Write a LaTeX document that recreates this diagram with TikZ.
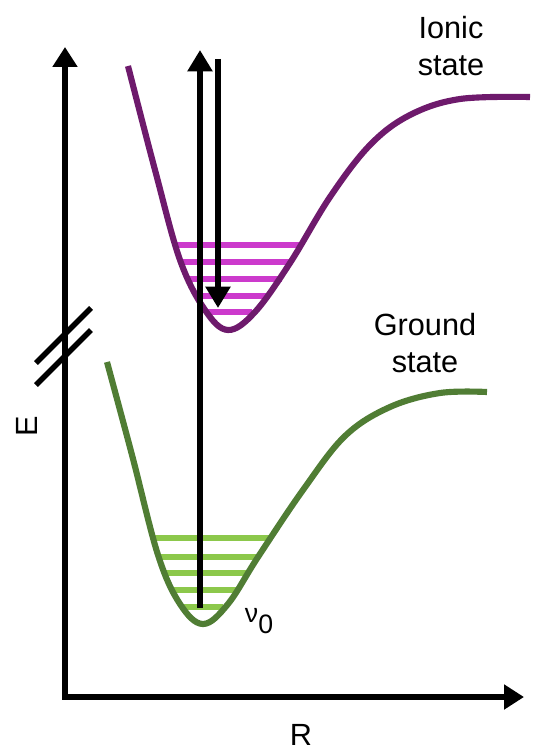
\documentclass[tikz,border=0pt]{standalone}
\usepackage{fontspec}
\setmainfont{Liberation Sans}
\usetikzlibrary{arrows.meta}
\definecolor{IonPurple}{HTML}{6E1A6C}
\definecolor{IonLevel}{HTML}{CC3ACC}
\definecolor{GndGreen}{HTML}{507D34}
\definecolor{GndLevel}{HTML}{8CC84B}

\begin{document}
\begin{tikzpicture}[x=0.75pt,y=-0.75pt,
    axis/.style={line width=5pt,line join=miter,{Triangle[width=18pt,length=15pt]}-{Triangle[width=18pt,length=15pt]}},
    trans/.style={line width=4.8pt,-{Triangle[width=18pt,length=16pt]}},
    well/.style={line width=4.6pt},
    level/.style={line width=3.8pt},
    lbl/.style={font=\fontsize{23}{28}\selectfont,inner sep=0pt,align=center}]
    \useasboundingbox (0,0) rectangle (537,752);

    % axes
    \coordinate (ytip) at (65,47);
    \coordinate (origin) at (65,697);
    \coordinate (xtip) at (524,697);
    \draw[axis] (ytip) -- (origin) -- (xtip);
    \draw[line width=4.2pt] (36,363) -- (91,308);
    \draw[line width=4.2pt] (36,385) -- (91,330);

    % vibrational levels
    \foreach \y/\a/\b in {245/173/300, 262/182/292, 279/190/282, 296/200/268, 312/207/252}
        \draw[level,IonLevel] (\a,\y) -- (\b,\y);
    \foreach \y/\a/\b in {538/152/270, 557/158/258, 573/165/247, 590/172/237, 607/183/223}
        \draw[level,GndLevel] (\a,\y) -- (\b,\y);

    % potential curves
    \draw[well,IonPurple] plot[smooth,tension=0.6] coordinates {(128,66) (155,170) (180,260) (205,310) (228,330)
        (255,312) (290,263) (330,197) (370,145) (410,115) (460,99) (530,97)};
    \draw[well,GndGreen] plot[smooth,tension=0.6] coordinates {(107,362) (132,455) (158,555) (180,604) (203,624)
        (228,604) (258,557) (303,490) (345,436) (390,407) (440,393) (487,392)};

    % transitions
    \coordinate (upstart) at (200,608);
    \coordinate (upend) at (200,50);
    \coordinate (downstart) at (218,59);
    \coordinate (downend) at (218,308);
    \draw[trans] (upstart) -- (upend);
    \draw[trans] (downstart) -- (downend);

    \node[lbl] (ionic) at (451,46) {Ionic\\state};
    \node[lbl] (ground) at (425,343) {Ground\\state};
    \node[lbl,rotate=90] (elabel) at (27,426) {E};
    \node[lbl] (rlabel) at (301,735) {R};
    \node[inner sep=0pt,font=\fontsize{20}{22}\selectfont] (nu0) at (259,621) {ν\raisebox{-0.42em}{0}};
\end{tikzpicture}
\end{document}
